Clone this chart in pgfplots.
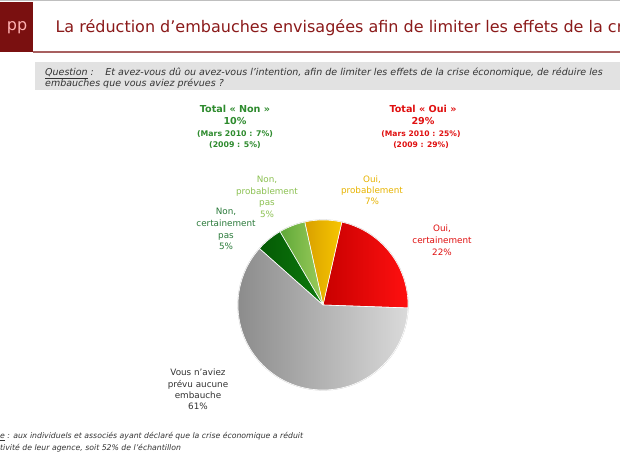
\documentclass[border=0pt]{standalone}
\usepackage{fontspec}
\setmainfont{DejaVu Sans}
\usepackage{pgfplots}
\usepackage{pgfplotstable}
\pgfplotsset{compat=1.18}
\usepgfplotslibrary{polar}
\definecolor{titlered}{HTML}{8B1A1A}
\definecolor{logored}{HTML}{7A1010}
\definecolor{rulered}{HTML}{A86060}
\definecolor{qbox}{HTML}{E2E2E2}
\definecolor{txtgreen}{HTML}{2E8B2E}
\definecolor{txtred}{HTML}{E01010}
\definecolor{txtyellow}{HTML}{E8B400}
\definecolor{txtlgreen}{HTML}{8CC152}
\definecolor{txtdgreen}{HTML}{2A7A3A}
\definecolor{txtgray}{HTML}{333333}
\definecolor{redL}{HTML}{C80000}
\definecolor{redR}{HTML}{FF1010}
\definecolor{yelL}{HTML}{D9A000}
\definecolor{yelR}{HTML}{F7C600}
\definecolor{lgrL}{HTML}{5FA838}
\definecolor{lgrR}{HTML}{9CCC5C}
\definecolor{dgrL}{HTML}{045A04}
\definecolor{dgrR}{HTML}{0E7A0E}
\definecolor{gryL}{HTML}{8C8C8C}
\definecolor{gryR}{HTML}{DADADA}
% share of each answer (%), counter-clockwise from the start angle
\pgfplotstableread{
name share
ouicert 22
ouiprob 7
nonprob 5
noncert 5
aucune 61
}\piedata
% label line: x, y of text centre in px from top, colour, font, text
\newcommand{\lbl}[5]{\node[anchor=base, inner sep=0pt, text=#3, font=#4] at (#1,{462-#2}) {#5};}
\begin{document}
\begin{tikzpicture}[x=1pt,y=1pt]
\useasboundingbox (0,0) rectangle (620,465);
\begin{scope}
\clip (0,0) rectangle (620,465);
% header
\fill[white] (0,0) rectangle (620,465);
\draw[gray!50, line width=1pt] (0,464.5) -- (620,464.5);
\fill[logored] (0,413) rectangle (33,463);
\node[text=red!30, font=\fontsize{16}{16}\selectfont] at (17,437) {pp};
\draw[rulered, line width=1.6pt] (33,413) -- (620,413);
\node[anchor=west, text=titlered, font=\fontsize{16}{17}\selectfont] at (52,437) {La réduction d'embauches envisagées afin de limiter les effets de la crise économique};
% question box
\fill[qbox] (35,375) rectangle (620,403);
\node[anchor=base west, inner sep=0pt, font=\itshape\fontsize{9.5}{10}\selectfont, text=txtgray] at (45,389) {\underline{Question} :\hspace{1.2em}Et avez-vous dû ou avez-vous l'intention, afin de limiter les effets de la crise économique, de réduire les};
\node[anchor=base west, inner sep=0pt, font=\itshape\fontsize{9.5}{10}\selectfont, text=txtgray] at (45,378) {embauches que vous aviez prévues ?};
% totals
\lbl{235}{110}{txtgreen}{\bfseries\fontsize{9.6}{11}\selectfont}{Total « Non »}
\lbl{235}{122}{txtgreen}{\bfseries\fontsize{9.6}{11}\selectfont}{10\%}
\lbl{235}{134}{txtgreen}{\bfseries\fontsize{7.8}{9}\selectfont}{(Mars 2010 : 7\%)}
\lbl{235}{145}{txtgreen}{\bfseries\fontsize{7.8}{9}\selectfont}{(2009 : 5\%)}
\lbl{423}{110}{txtred}{\bfseries\fontsize{9.6}{11}\selectfont}{Total « Oui »}
\lbl{423}{122}{txtred}{\bfseries\fontsize{9.6}{11}\selectfont}{29\%}
\lbl{421}{134}{txtred}{\bfseries\fontsize{7.6}{9}\selectfont}{(Mars 2010 : 25\%)}
\lbl{421}{145}{txtred}{\bfseries\fontsize{7.6}{9}\selectfont}{(2009 : 29\%)}
% slice labels
\lbl{372}{180}{txtyellow}{\fontsize{8.8}{10}\selectfont}{Oui,}
\lbl{372}{191}{txtyellow}{\fontsize{8.8}{10}\selectfont}{probablement}
\lbl{372}{202}{txtyellow}{\fontsize{8.8}{10}\selectfont}{7\%}
\lbl{267}{180}{txtlgreen}{\fontsize{8.8}{10}\selectfont}{Non,}
\lbl{267}{192}{txtlgreen}{\fontsize{8.8}{10}\selectfont}{probablement}
\lbl{267}{203}{txtlgreen}{\fontsize{8.8}{10}\selectfont}{pas}
\lbl{267}{215}{txtlgreen}{\fontsize{8.8}{10}\selectfont}{5\%}
\lbl{226}{212}{txtdgreen}{\fontsize{8.8}{10}\selectfont}{Non,}
\lbl{226}{224}{txtdgreen}{\fontsize{8.8}{10}\selectfont}{certainement}
\lbl{226}{236}{txtdgreen}{\fontsize{8.8}{10}\selectfont}{pas}
\lbl{226}{247}{txtdgreen}{\fontsize{8.8}{10}\selectfont}{5\%}
\lbl{442}{229}{txtred}{\fontsize{8.8}{10}\selectfont}{Oui,}
\lbl{442}{241}{txtred}{\fontsize{8.8}{10}\selectfont}{certainement}
\lbl{442}{253}{txtred}{\fontsize{8.8}{10}\selectfont}{22\%}
\lbl{198}{373}{txtgray}{\fontsize{8.8}{10}\selectfont}{Vous n'aviez}
\lbl{198}{385}{txtgray}{\fontsize{8.8}{10}\selectfont}{prévu aucune}
\lbl{198}{396}{txtgray}{\fontsize{8.8}{10}\selectfont}{embauche}
\lbl{198}{407}{txtgray}{\fontsize{8.8}{10}\selectfont}{61\%}
% footer
\node[anchor=base west, inner sep=0pt, text=txtgray, font=\itshape\fontsize{7.75}{10}\selectfont] at (0,26) {\underline{e} : aux individuels et associés ayant déclaré que la crise économique a réduit};
\node[anchor=base west, inner sep=0pt, text=txtgray, font=\itshape\fontsize{7.75}{10}\selectfont] at (0,14) {tivité de leur agence, soit 52\% de l'échantillon};
\end{scope}
% pie
\pgfmathsetmacro{\aA}{-2}
\pgfplotstablegetelem{0}{share}\of\piedata \pgfmathsetmacro{\aB}{\aA+3.6*\pgfplotsretval}
\pgfplotstablegetelem{1}{share}\of\piedata \pgfmathsetmacro{\aC}{\aB+3.6*\pgfplotsretval}
\pgfplotstablegetelem{2}{share}\of\piedata \pgfmathsetmacro{\aD}{\aC+3.6*\pgfplotsretval}
\pgfplotstablegetelem{3}{share}\of\piedata \pgfmathsetmacro{\aE}{\aD+3.6*\pgfplotsretval}
\pgfplotstablegetelem{4}{share}\of\piedata \pgfmathsetmacro{\aF}{\aE+3.6*\pgfplotsretval}
\begin{polaraxis}[at={(323pt,160pt)}, anchor=origin, hide axis, scale only axis,
  width=170pt, height=170pt, xmin=0, xmax=360, ymin=0, ymax=1, clip=false]
\addplot[draw=gray!35, line width=1.2pt, domain=0:360, samples=121] {1};
\addplot[draw=white, line width=0.6pt, left color=redL, right color=redR, domain=\aA:\aB, samples=60] {1} -- (axis cs:0,0) -- cycle;
\addplot[draw=white, line width=0.6pt, left color=yelL, right color=yelR, domain=\aB:\aC, samples=30] {1} -- (axis cs:0,0) -- cycle;
\addplot[draw=white, line width=0.6pt, left color=lgrL, right color=lgrR, domain=\aC:\aD, samples=30] {1} -- (axis cs:0,0) -- cycle;
\addplot[draw=white, line width=0.6pt, left color=dgrL, right color=dgrR, domain=\aD:\aE, samples=30] {1} -- (axis cs:0,0) -- cycle;
\addplot[draw=white, line width=0.6pt, left color=gryL, right color=gryR, domain=\aE:\aF, samples=120] {1} -- (axis cs:0,0) -- cycle;
\end{polaraxis}
\end{tikzpicture}
\end{document}
